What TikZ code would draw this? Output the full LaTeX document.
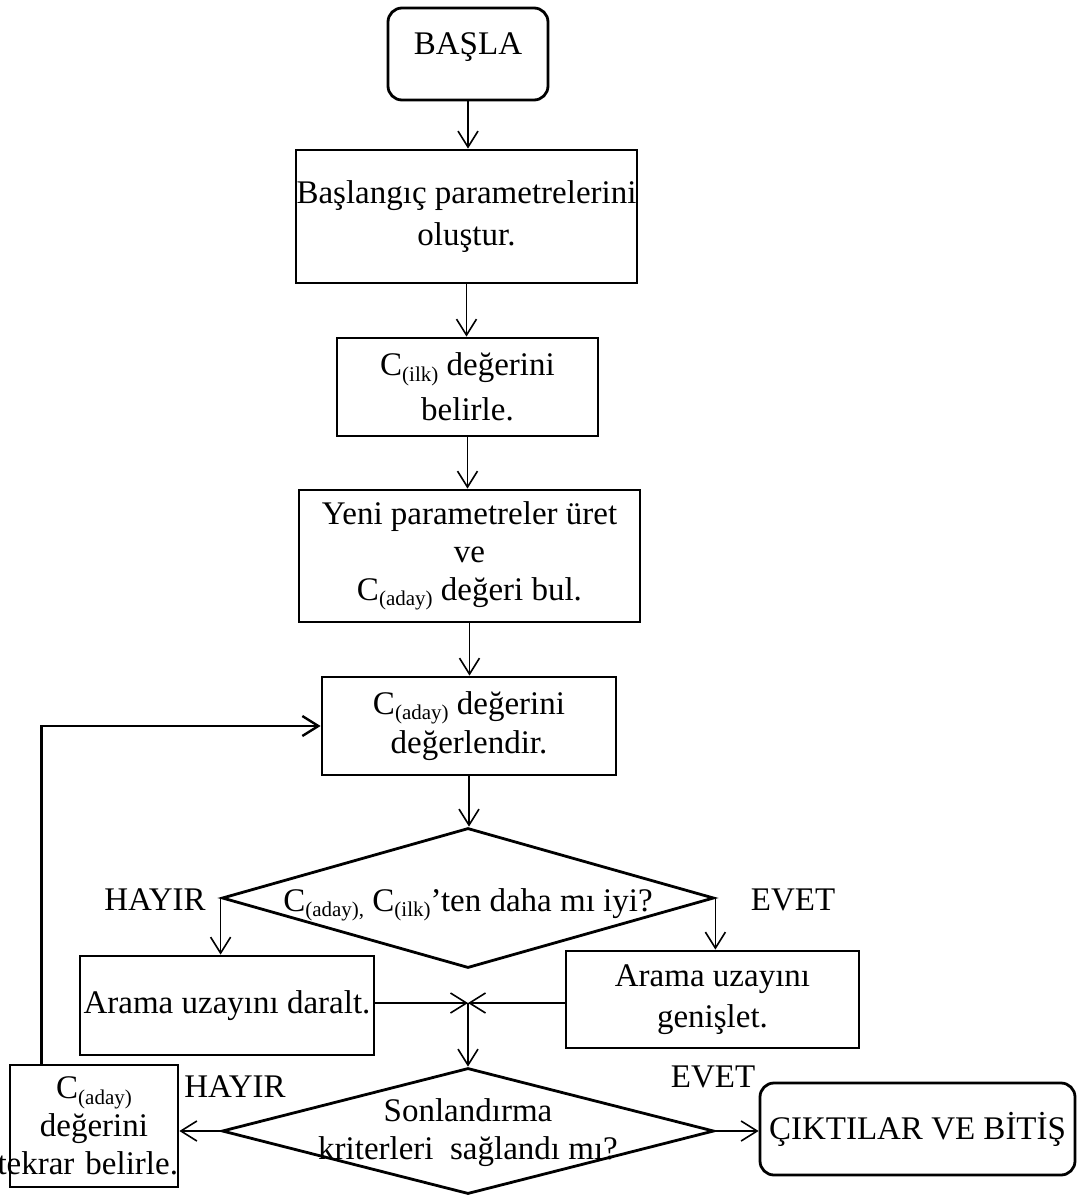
\documentclass[tikz,border=0pt]{standalone}
\usepackage{fontspec}
\setmainfont{Liberation Serif}
\usetikzlibrary{arrows.meta,shapes.geometric}
\newcommand\lowsub[1]{\raisebox{-2.8pt}{\fontsize{10.5pt}{10.5pt}\selectfont #1}}
\newcommand\fs[1]{\fontsize{16.5pt}{#1}\selectfont}
\begin{document}
\begin{tikzpicture}[x=0.5pt,y=-0.5pt,
  every node/.style={font=\fs{21pt}},
  box/.style={draw, line width=1.4pt, inner sep=0pt, align=center},
  rbox/.style={box, rounded corners=7pt},
  dia/.style={draw, shape=diamond, line width=1.4pt, inner sep=0pt, minimum width=246pt, minimum height=70pt},
  arr/.style={-{Straight Barb[length=8pt,width=10pt]}, line width=0.8pt},
  lbl/.style={inner sep=0pt}]
\useasboundingbox (0,0) rectangle (1079,1200);

\node[rbox, minimum width=80pt, minimum height=46pt, text depth=10pt] (start) at (468,54) {BAŞLA};
\node[box, minimum width=170.5pt, minimum height=66.5pt, font=\fs{21pt}] (init) at (466.5,216.5) {Başlangıç parametrelerini\\oluştur.};
\node[box, minimum width=130.5pt, minimum height=49pt, font=\fs{22.5pt}] (cilk) at (467.5,387) {C\lowsub{(ilk)} değerini\\belirle.};
\node[box, minimum width=170.5pt, minimum height=66pt, font=\fs{19pt}] (yeni) at (469.5,556) {Yeni parametreler üret\\ve\\C\lowsub{(aday)} değeri bul.};
\node[box, minimum width=147pt, minimum height=49pt, font=\fs{19.5pt}] (eval) at (469,726) {C\lowsub{(aday)} değerini\\değerlendir.};

\node[dia] (d1) at (468,898) {};
\node[lbl] (d1t) at (468,905) {C\lowsub{(aday),} C\lowsub{(ilk)}’ten daha mı iyi?};

\node[box, minimum width=147pt, minimum height=49.5pt] (daralt) at (227,1005.5) {Arama uzayını daralt.};
\node[box, minimum width=146.5pt, minimum height=48.5pt, font=\fs{20.5pt}] (genis) at (712.5,999.5) {Arama uzayını\\genişlet.};
\coordinate (jn) at (468,1003);

\node[dia, minimum height=63pt] (d2) at (468,1131) {};
\node[lbl, align=center, font=\fs{19pt}] (d2t) at (468,1133) {Sonlandırma\\kriterleri\ \ sağlandı mı?};

\node[box, minimum width=84pt, minimum height=61pt, text width=84pt, font=\fs{19pt}] (tekrar) at (94,1126) {C\lowsub{(aday)}\\değerini\\\makebox[84pt][r]{tekrar belirle.}};
\node[rbox, minimum width=157.5pt, minimum height=46pt] (fin) at (917.5,1129) {ÇIKTILAR VE BİTİŞ};

\node[lbl] (h1) at (155,900) {HAYIR};
\node[lbl] (e1) at (793,900) {EVET};
\node[lbl] (h2) at (235,1087) {HAYIR};
\node[lbl] (e2) at (713,1077) {EVET};

\draw[arr] (start.south) -- (start.south |- init.north);
\draw[arr] (init.south) -- (init.south |- cilk.north);
\draw[arr] (cilk.south) -- (cilk.south |- yeni.north);
\draw[arr] (yeni.south) -- (yeni.south |- eval.north);
\draw[arr] (eval.south) -- (eval.south |- d1.north);
\draw[arr] (d1.west) -- (d1.west |- daralt.north);
\draw[arr] (d1.east) -- (d1.east |- genis.north);
\draw[arr] (daralt.east |- jn) -- (jn);
\draw[arr] (genis.west |- jn) -- (jn);
\draw[arr] (jn) -- (d2.north);
\draw[arr] (d2.west) -- (tekrar.east |- d2.west);
\draw[arr] (d2.east) -- (fin.west |- d2.east);
\draw[arr, line width=1.2pt] ([xshift=16.5pt]tekrar.north west) |- (eval.west);
\end{tikzpicture}
\end{document}
